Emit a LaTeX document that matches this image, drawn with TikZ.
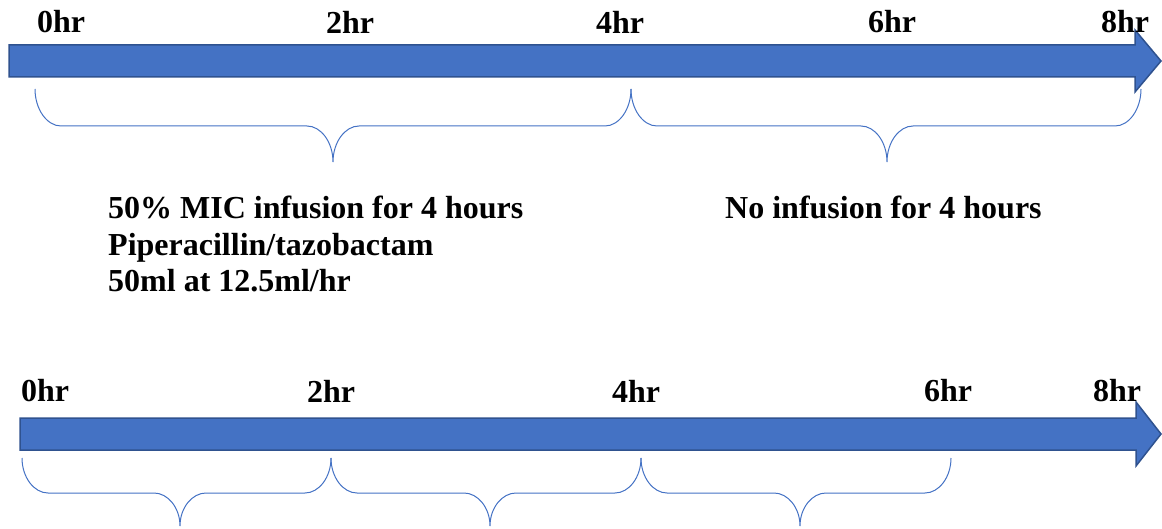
\documentclass[tikz,border=0pt]{standalone}
\usepackage{fontspec}
\setmainfont{Liberation Serif}
\definecolor{arrowfill}{HTML}{4472C4}
\definecolor{arrowedge}{HTML}{2F528F}
\definecolor{bracecol}{HTML}{4472C4}
\tikzset{
  timearrow/.style={fill=arrowfill, draw=arrowedge, line width=1.5pt, line join=miter},
  hrlabel/.style={inner sep=0pt, font=\fontsize{32}{38}\selectfont\bfseries},
  txt/.style={inner sep=0pt, anchor=base west, font=\fontsize{32}{38}\selectfont\bfseries},
  bracestyle/.style={draw=bracecol, line width=1pt}
}
% brace: #1 left x, #2 mid x, #3 right x, #4 top y, #5 bar y, #6 tip y
\newcommand{\mybrace}[6]{%
  \draw[bracestyle] (#1,#4) .. controls (#1,{#4+0.55*(#5-#4)}) and ({#1+12},#5) .. ({#1+26},#5)
    -- ({#2-26},#5) .. controls ({#2-12},#5) and (#2,{#6-0.55*(#6-#5)}) .. (#2,#6)
    .. controls (#2,{#6-0.55*(#6-#5)}) and ({#2+12},#5) .. ({#2+26},#5)
    -- ({#3-26},#5) .. controls ({#3-12},#5) and (#3,{#4+0.55*(#5-#4)}) .. (#3,#4);}
\begin{document}
\begin{tikzpicture}[x=1pt,y=-1pt]
\useasboundingbox (0,0) rectangle (1162,529);
% top arrow
\draw[timearrow] (9,45) -- (1135,45) -- (1135,30) -- (1161,61) -- (1135,92) -- (1135,77) -- (9,77) -- cycle;
% bottom arrow
\draw[timearrow] (20,418) -- (1136,418) -- (1136,402) -- (1161,434) -- (1136,466) -- (1136,450) -- (20,450) -- cycle;
% top labels
\node[hrlabel] (t0) at (61,22) {0hr};
\node[hrlabel] (t2) at (350,22) {2hr};
\node[hrlabel] (t4) at (620,22) {4hr};
\node[hrlabel] (t6) at (892,22) {6hr};
\node[hrlabel] (t8) at (1125,22) {8hr};
% bottom labels
\node[hrlabel] (b0) at (45,391) {0hr};
\node[hrlabel] (b2) at (331,391) {2hr};
\node[hrlabel] (b4) at (636,391) {4hr};
\node[hrlabel] (b6) at (948,391) {6hr};
\node[hrlabel] (b8) at (1117,391) {8hr};
% top braces
\mybrace{35}{333}{631}{89}{126}{162}
\mybrace{631}{887}{1141}{89}{126}{162}
% bottom braces
\mybrace{22}{180}{331}{458}{493}{526}
\mybrace{331}{490}{641}{458}{493}{526}
\mybrace{641}{800}{951}{458}{493}{526}
% texts
\node[txt] (l1) at (108,219) {50\% MIC infusion for 4 hours};
\node[txt] (l2) at (108,256) {Piperacillin/tazobactam};
\node[txt] (l3) at (108,292) {50ml at 12.5ml/hr};
\node[txt] (r1) at (725,219) {No infusion for 4 hours};
\end{tikzpicture}
\end{document}
